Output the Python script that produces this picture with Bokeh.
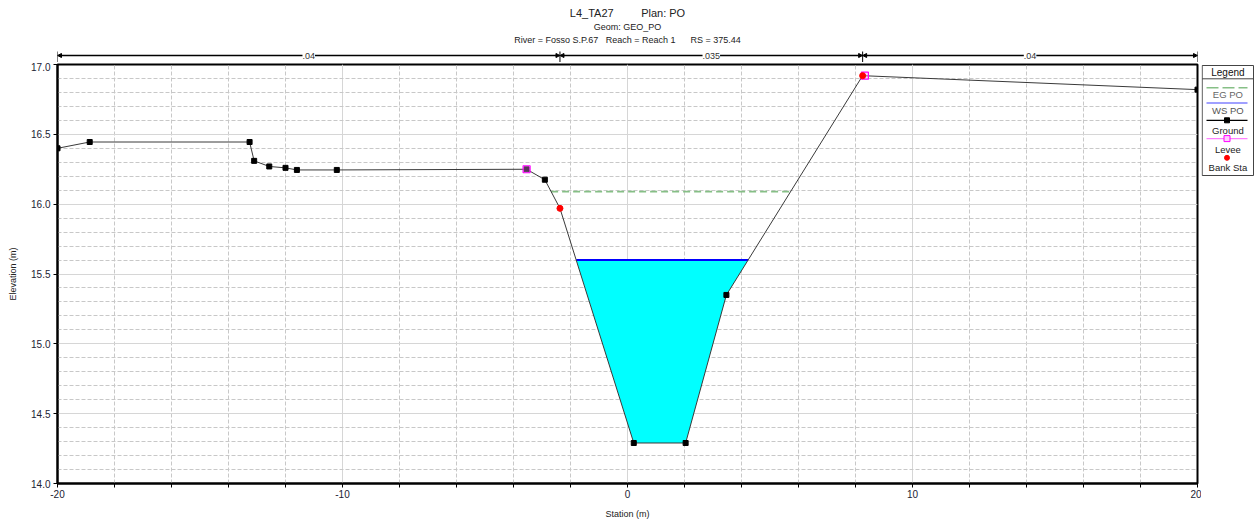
import numpy as np
from bokeh.plotting import figure
from bokeh.layouts import row, column
from bokeh.models import (Range1d, FixedTicker, PrintfTickFormatter,
                          ColumnDataSource, Arrow, NormalHead, LabelSet)
from bokeh.core.properties import value
from bokeh.embed import file_html
from bokeh.resources import INLINE

# ---- cross-section data -------------------------------------------------
ground_x = [-20.0, -18.87, -13.26, -13.10, -12.57, -12.0, -11.6, -10.2,
            -3.54, -2.90, -2.37, 0.22, 2.04, 3.47, 8.25, 20.0]
ground_y = [16.40, 16.445, 16.445, 16.31, 16.27, 16.26, 16.245, 16.245,
            16.25, 16.175, 15.97, 14.29, 14.29, 15.35, 16.92, 16.82]

levee_x = [-3.54, 8.33]
levee_y = [16.25, 16.92]

bank_sta = [-2.37, 8.25]

ws_elev = 15.60      # WS PO
eg_elev = 16.09      # EG PO

n_values = [".04", ".035", ".04"]

title_lines = ["L4_TA27" + "\u00a0" * 9 + "Plan: PO",
               "Geom: GEO_PO",
               "River = Fosso S.P.67" + "\u00a0" * 3 + "Reach = Reach 1"
               + "\u00a0" * 6 + "RS = 375.44"]

legend_labels = ["EG PO", "WS PO", "Ground", "Levee", "Bank Sta"]

x_ticks = [-20, -10, 0, 10, 20]
y_ticks = [14.0, 14.5, 15.0, 15.5, 16.0, 16.5, 17.0]

FONT_NAME = "Liberation Sans"
FONT = value(FONT_NAME)

gx = np.array(ground_x)
gy = np.array(ground_y)


def channel_crossings(level):
    """Stations where a level meets the ground either side of the thalweg."""
    i0 = int(np.argmin(gy))
    i = i0
    while gy[i - 1] < level:
        i -= 1
    t = (gy[i - 1] - level) / (gy[i - 1] - gy[i])
    xl = gx[i - 1] + t * (gx[i] - gx[i - 1])
    j = i0
    while gy[j + 1] < level:
        j += 1
    t = (level - gy[j]) / (gy[j + 1] - gy[j])
    xr = gx[j] + t * (gx[j + 1] - gx[j])
    return xl, xr, i, j


# ---- main cross-section plot --------------------------------------------
x_rng = Range1d(-20, 20)
p = figure(width=1201, height=460, x_range=x_rng, y_range=Range1d(14, 17),
           output_backend="svg", toolbar_location=None,
           min_border_left=57, min_border_right=4,
           min_border_top=2, min_border_bottom=39,
           x_axis_label="Station (m)", y_axis_label="Elevation (m)")

p.xaxis.ticker = FixedTicker(ticks=x_ticks,
                             minor_ticks=[v for v in range(-20, 21, 2) if v % 10])
p.yaxis.ticker = FixedTicker(ticks=y_ticks,
                             minor_ticks=[round(14 + 0.1 * k, 1) for k in range(31) if k % 5])
p.xaxis.formatter = PrintfTickFormatter(format="%d")
p.yaxis.formatter = PrintfTickFormatter(format="%.1f")

for ax in (p.xaxis, p.yaxis):
    ax.axis_line_width = 2
    ax.axis_line_color = "black"
    ax.major_tick_out = 4
    ax.major_tick_in = 0
    ax.minor_tick_out = 4
    ax.minor_tick_in = 0
    ax.major_label_text_font = FONT_NAME
    ax.major_label_text_font_size = "10px"
    ax.major_label_text_color = "#222233"
    ax.axis_label_text_font = FONT_NAME
    ax.axis_label_text_font_size = "9px"
    ax.axis_label_text_font_style = "normal"
    ax.axis_label_text_color = "#222222"
p.yaxis.minor_tick_line_color = None
p.xaxis.major_label_standoff = 2
p.xaxis.axis_label_standoff = 8
p.yaxis.major_label_standoff = 3
p.yaxis.axis_label_standoff = 10

for g in (p.xgrid, p.ygrid):
    g.grid_line_color = "#d6d6d6"
    g.grid_line_width = 1
    g.minor_grid_line_color = "#c8c8c8"
    g.minor_grid_line_dash = "4 2"
    g.minor_grid_line_width = 1

p.outline_line_color = "black"
p.outline_line_width = 2
p.background_fill_color = "white"
p.border_fill_color = "white"

# water in the channel
wl, wr, wi, wj = channel_crossings(ws_elev)
poly_x = [wl] + list(gx[wi:wj + 1]) + [wr]
poly_y = [ws_elev] + list(gy[wi:wj + 1]) + [ws_elev]
p.patch(poly_x, poly_y, fill_color="#00ffff", line_color=None)
p.line([wl, wr], [ws_elev, ws_elev], line_color="#0000ff", line_width=2)

# energy grade line
el, er, _, _ = channel_crossings(eg_elev)
p.line([el, er], [eg_elev, eg_elev], line_color="#86bf86", line_width=1.6,
       line_dash="7 4")

# ground (points at the bank stations carry the bank marker instead)
p.line(ground_x, ground_y, line_color="#3a3a3a", line_width=1)
pts = [(x, y) for x, y in zip(ground_x, ground_y) if x not in bank_sta]
p.scatter([q[0] for q in pts], [q[1] for q in pts], marker="square", size=5,
          fill_color="black", line_color="black")

# levees and bank stations
p.scatter(levee_x, levee_y, marker="square", size=7,
          fill_color="#ff99ff", fill_alpha=0.35, line_color="#ff00ff", line_width=1.2)
bank_y = list(np.interp(bank_sta, gx, gy))
p.scatter(bank_sta, bank_y, marker="circle", size=6,
          fill_color="#ff0000", line_color="#ff0000")

# ---- header: titles and Manning's n bar ---------------------------------
top = figure(width=1201, height=62, x_range=x_rng, y_range=Range1d(62, 0),
             output_backend="svg", toolbar_location=None,
             min_border_left=57, min_border_right=4,
             min_border_top=0, min_border_bottom=0)
top.axis.visible = False
top.grid.visible = False
top.outline_line_color = None

top.text(x=[0, 0, 0], y=[12, 26, 39], text=title_lines,
         text_align="center", text_baseline="middle", text_font=FONT,
         text_font_size=["11px", "9px", "9px"], text_color="#222222")

breaks = [-20.0] + bank_sta + [20.0]
seg = ColumnDataSource(dict(x0=breaks[:-1], x1=breaks[1:],
                            xm=[(a + b) / 2 for a, b in zip(breaks[:-1], breaks[1:])],
                            y=[55] * 3, n=n_values))
top.add_layout(Arrow(source=seg, x_start="x0", x_end="x1", y_start="y", y_end="y",
                     line_color="black", line_width=1.5,
                     start=NormalHead(size=4, fill_color="black", line_color="black"),
                     end=NormalHead(size=4, fill_color="black", line_color="black")))
top.segment(x0=breaks, x1=breaks, y0=[51] * len(breaks), y1=[62] * len(breaks),
            line_color="black", line_width=1)
top.add_layout(LabelSet(source=seg, x="xm", y="y", text="n",
                        text_align="center", text_baseline="middle",
                        text_font=FONT, text_font_size="9px", text_color="#333333",
                        background_fill_color="white"))

# ---- legend panel --------------------------------------------------------
leg = figure(width=55, height=522, x_range=Range1d(0, 55), y_range=Range1d(522, 0),
             output_backend="svg", toolbar_location=None, min_border=0)
leg.axis.visible = False
leg.grid.visible = False
leg.outline_line_color = None

leg.quad(left=0.7, right=52, top=65, bottom=175, fill_color="white",
         line_color="#444444", line_width=1)
leg.text(x=[26.4], y=[71.5], text=["Legend"], text_align="center",
         text_baseline="middle", text_font=FONT, text_font_size="10px",
         text_color="#111111")
leg.line([0.7, 52], [78.3, 78.3], line_color="#444444", line_width=1)

sx = [5, 46]
leg.line(sx, [87.2, 87.2], line_color="#86bf86", line_width=1.6, line_dash="12 4")
leg.line(sx, [102.4, 102.4], line_color="#8080ff", line_width=1.5)
leg.line(sx, [119.8, 119.8], line_color="black", line_width=1.2)
leg.scatter([25.5], [119.8], marker="square", size=5, fill_color="black", line_color="black")
leg.line(sx, [138.1, 138.1], line_color="#ff80ff", line_width=1.2)
leg.scatter([25.5], [138.1], marker="square", size=6, fill_color="#ffccff",
            line_color="#ff00ff")
leg.scatter([25.5], [157.3], marker="circle", size=5, fill_color="#ff0000",
            line_color="#ff0000")
leg.text(x=[26.4] * 5, y=[94.2, 110, 129.5, 149, 166.5], text=legend_labels,
         text_align="center", text_baseline="middle", text_font=FONT,
         text_font_size="9.5px",
         text_color=["#666666", "#555555", "#222222", "#222222", "#222222"])

layout = row(column(top, p, spacing=0), leg, spacing=0)

open("out.html", "w").write(file_html(layout, INLINE))
